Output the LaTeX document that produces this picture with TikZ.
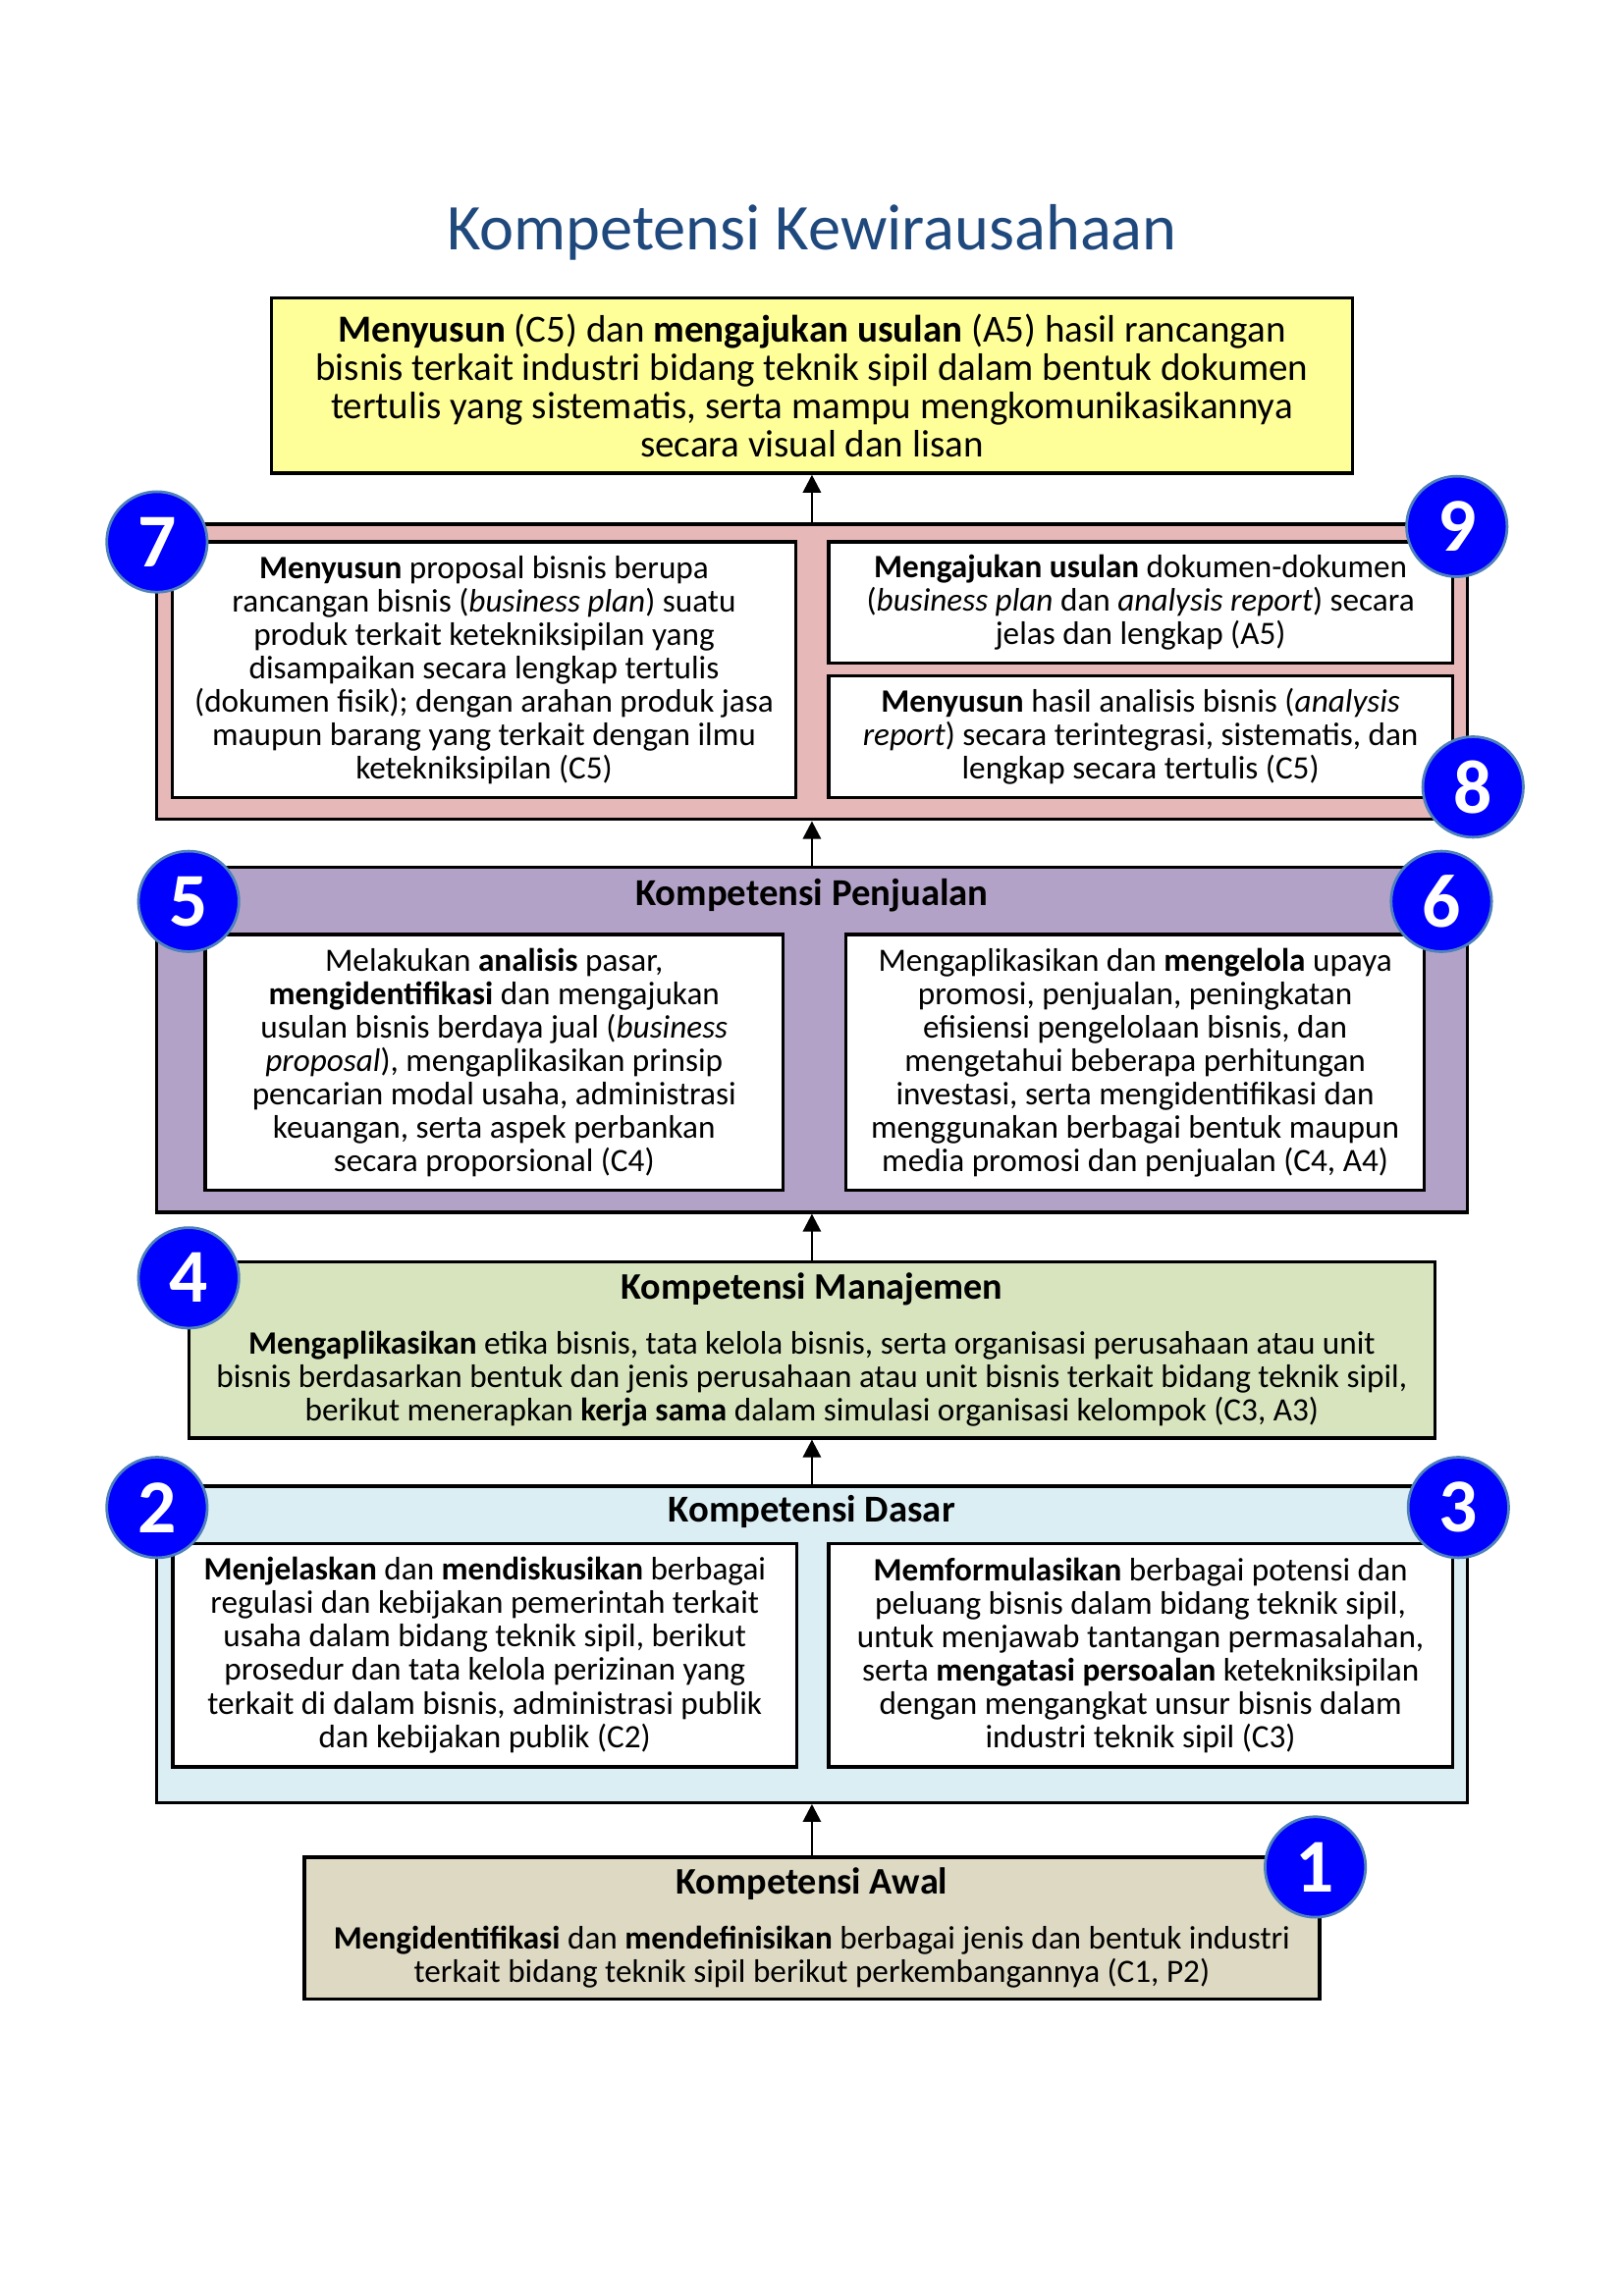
\documentclass[tikz,border=0pt]{standalone}
\usepackage{fontspec}
\setmainfont{Carlito}
\usepackage{tikz}
\usetikzlibrary{arrows.meta,positioning}
\definecolor{TitleBlue}{HTML}{1F497D}
\definecolor{GoalYellow}{HTML}{FFFF99}
\definecolor{LevelPink}{HTML}{E6B9B8}
\definecolor{LevelPurple}{HTML}{B3A2C7}
\definecolor{LevelGreen}{HTML}{D7E4BD}
\definecolor{LevelBlue}{HTML}{DBEEF4}
\definecolor{LevelTan}{HTML}{DDD9C3}
\definecolor{BadgeBlue}{HTML}{0000FF}
\definecolor{BadgeRim}{HTML}{4F81BD}
\tikzset{
  uparrow/.style={-{Triangle[length=2.3mm,width=2.3mm]}, line width=1pt, draw=black},
  badge/.style={circle, fill=BadgeBlue, draw=BadgeRim, line width=1pt, minimum size=1.30cm,
    inner sep=0pt, text=white, font=\fontsize{28}{30}\selectfont\bfseries}
}
\begin{document}
\begin{tikzpicture}[
  font=\fontsize{12}{12.3}\selectfont,
  level/.style={draw=black, line width=1.2pt, inner sep=0pt},
  card/.style={draw=black, line width=1.2pt, fill=white, align=center, inner sep=0pt},
  heading/.style={font=\fontsize{14}{15}\selectfont\bfseries}
]
\useasboundingbox (0,0) rectangle (21,-29.7);

\node[anchor=base, text=TitleBlue, font=\fontsize{24}{29}\selectfont] at (10.5,-3.23) (title) {Kompetensi Kewirausahaan};

% Goal box
\node[level, fill=GoalYellow, align=center, minimum width=13.98cm, minimum height=2.27cm,
  font=\fontsize{14.1}{14.1}\selectfont] at (10.5,-4.985) (goal)
  {\textbf{Menyusun} (C5) dan \textbf{mengajukan usulan} (A5) hasil rancangan\\
   bisnis terkait industri bidang teknik sipil dalam bentuk dokumen\\
   tertulis yang sistematis, serta mampu mengkomunikasikannya\\
   secara visual dan lisan};

% Level 7-9
\node[level, fill=LevelPink, minimum width=16.95cm, minimum height=3.82cm] at (10.5,-8.69) (pink) {};
\node[card, minimum width=8.07cm, minimum height=3.31cm] at (6.26,-8.665) (pinkL)
  {\textbf{Menyusun} proposal bisnis berupa\\
   rancangan bisnis (\textit{business plan}) suatu\\
   produk terkait ketekniksipilan yang\\
   disampaikan secara lengkap tertulis\\
   (dokumen fisik); dengan arahan produk jasa\\
   maupun barang yang terkait dengan ilmu\\
   ketekniksipilan (C5)};
\node[card, minimum width=8.07cm, minimum height=1.57cm] at (14.75,-7.795) (pinkRT)
  {\textbf{Mengajukan usulan} dokumen-dokumen\\
   (\textit{business plan} dan \textit{analysis report}) secara\\
   jelas dan lengkap (A5)};
\node[card, minimum width=8.07cm, minimum height=1.58cm] at (14.75,-9.53) (pinkRB)
  {\textbf{Menyusun} hasil analisis bisnis (\textit{analysis}\\
   \textit{report}) secara terintegrasi, sistematis, dan\\
   lengkap secara tertulis (C5)};

% Level 5-6
\node[level, fill=LevelPurple, minimum width=16.95cm, minimum height=4.46cm] at (10.5,-13.45) (purple) {};
\node[heading] at (10.5,-11.58) (purpleT) {Kompetensi Penjualan};
\node[card, minimum width=7.47cm, minimum height=3.31cm] at (6.39,-13.745) (purpleL)
  {Melakukan \textbf{analisis} pasar,\\
   \textbf{mengidentifikasi} dan mengajukan\\
   usulan bisnis berdaya jual (\textit{business}\\
   \textit{proposal}), mengaplikasikan prinsip\\
   pencarian modal usaha, administrasi\\
   keuangan, serta aspek perbankan\\
   secara proporsional (C4)};
\node[card, minimum width=7.48cm, minimum height=3.31cm] at (14.68,-13.745) (purpleR)
  {Mengaplikasikan dan \textbf{mengelola} upaya\\
   promosi, penjualan, peningkatan\\
   efisiensi pengelolaan bisnis, dan\\
   mengetahui beberapa perhitungan\\
   investasi, serta mengidentifikasi dan\\
   menggunakan berbagai bentuk maupun\\
   media promosi dan penjualan (C4, A4)};

% Level 4
\node[level, fill=LevelGreen, align=center, minimum width=16.12cm, minimum height=2.28cm] at (10.5,-17.46) (green)
  {{\fontsize{13.8}{15}\selectfont\bfseries Kompetensi Manajemen}\\[8pt]
   \textbf{Mengaplikasikan} etika bisnis, tata kelola bisnis, serta organisasi perusahaan atau unit\\
   bisnis berdasarkan bentuk dan jenis perusahaan atau unit bisnis terkait bidang teknik sipil,\\
   berikut menerapkan \textbf{kerja sama} dalam simulasi organisasi kelompok (C3, A3)};

% Level 2-3
\node[level, fill=LevelBlue, minimum width=16.95cm, minimum height=4.09cm] at (10.5,-21.27) (blue) {};
\node[heading] at (10.5,-19.55) (blueT) {Kompetensi Dasar};
\node[card, minimum width=8.07cm, minimum height=2.89cm] at (6.27,-21.41) (blueL)
  {\textbf{Menjelaskan} dan \textbf{mendiskusikan} berbagai\\
   regulasi dan kebijakan pemerintah terkait\\
   usaha dalam bidang teknik sipil, berikut\\
   prosedur dan tata kelola perizinan yang\\
   terkait di dalam bisnis, administrasi publik\\
   dan kebijakan publik (C2)};
\node[card, minimum width=8.07cm, minimum height=2.89cm] at (14.75,-21.41) (blueR)
  {\textbf{Memformulasikan} berbagai potensi dan\\
   peluang bisnis dalam bidang teknik sipil,\\
   untuk menjawab tantangan permasalahan,\\
   serta \textbf{mengatasi persoalan} ketekniksipilan\\
   dengan mengangkat unsur bisnis dalam\\
   industri teknik sipil (C3)};

% Level 1
\node[level, fill=LevelTan, align=center, minimum width=13.13cm, minimum height=1.83cm] at (10.5,-24.94) (tan)
  {{\fontsize{13.8}{15}\selectfont\bfseries Kompetensi Awal}\\[8pt]
   \textbf{Mengidentifikasi} dan \textbf{mendefinisikan} berbagai jenis dan bentuk industri\\
   terkait bidang teknik sipil berikut perkembangannya (C1, P2)};

% Upward flow between levels
\draw[uparrow] (tan.north) -- (blue.south);
\draw[uparrow] (blue.north) -- (green.south);
\draw[uparrow] (green.north) -- (purple.south);
\draw[uparrow] (purple.north) -- (pink.south);
\draw[uparrow] (pink.north) -- (goal.south);

% Numbered badges
\node[badge] at (17.01,-24.15) (b1) {1};
\node[badge] at (2.03,-19.50) (b2) {2};
\node[badge] at (18.86,-19.50) (b3) {3};
\node[badge] at (2.44,-16.53) (b4) {4};
\node[badge] at (2.44,-11.66) (b5) {5};
\node[badge] at (18.64,-11.66) (b6) {6};
\node[badge] at (2.03,-7.01) (b7) {7};
\node[badge] at (19.05,-10.18) (b8) {8};
\node[badge] at (18.84,-6.81) (b9) {9};
\end{tikzpicture}
\end{document}
